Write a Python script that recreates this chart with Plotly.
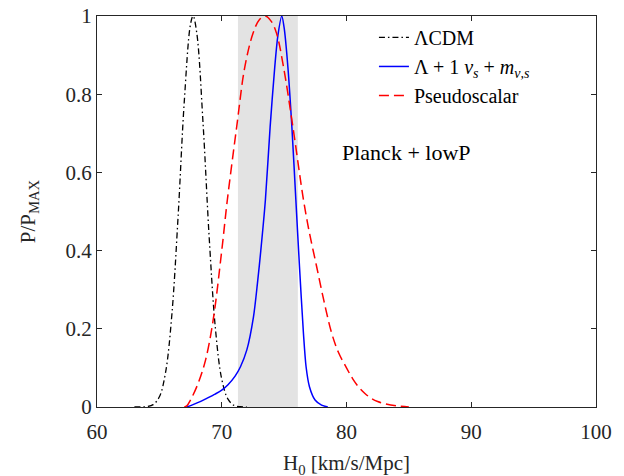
import plotly.graph_objects as go

# H0 posteriors, normalised to the peak
h0_lcdm = [63.0, 63.5, 64.0, 64.5, 65.0, 65.5, 66.0, 66.5, 67.0, 67.5, 67.7,
           68.0, 68.5, 69.0, 69.5, 70.0, 70.5, 71.0, 71.5, 72.0]
p_lcdm = [0.0, 0.0002, 0.001, 0.006, 0.026, 0.089, 0.236, 0.487, 0.783, 0.98, 1.0,
          0.956, 0.726, 0.43, 0.198, 0.071, 0.02, 0.004, 0.0007, 0.0]

h0_nus = [67.2, 67.7, 68.27, 68.8, 69.47, 70.0, 70.5, 71.07, 71.5, 72.01, 72.54,
          72.86, 73.13, 73.5, 73.88, 74.25, 74.5, 74.81, 75.0, 75.3, 75.62, 75.94,
          76.23, 76.55, 76.76, 77.03, 77.48, 78.0, 78.5]
p_nus = [0.0, 0.006, 0.0136, 0.022, 0.033, 0.043, 0.057, 0.079, 0.103, 0.146, 0.23,
         0.316, 0.40, 0.53, 0.717, 0.87, 0.95, 1.0, 0.97, 0.87, 0.717, 0.53,
         0.36, 0.188, 0.103, 0.052, 0.018, 0.005, 0.0]

h0_pseudo = [67.0, 67.2, 67.5, 68.1, 68.7, 69.3, 70.0, 70.45, 71.2, 71.85, 72.5,
             73.0, 73.5, 74.0, 74.4, 74.95, 75.7, 76.55, 77.0, 77.6, 78.2, 78.82,
             79.35, 80.0, 80.5, 81.0, 81.5, 82.0, 82.5, 83.0, 84.0, 85.0]
p_pseudo = [0.0, 0.003, 0.018, 0.06, 0.12, 0.22, 0.40, 0.53, 0.717, 0.87, 0.955,
            0.99, 1.0, 0.985, 0.955, 0.87, 0.717, 0.53, 0.45, 0.36, 0.27, 0.188,
            0.14, 0.10, 0.072, 0.05, 0.034, 0.022, 0.014, 0.009, 0.003, 0.0]

# local H0 measurement band
band = [71.3, 76.1]

x_ticks = [60, 70, 80, 90, 100]
y_ticks = [0, 0.2, 0.4, 0.6, 0.8, 1]

SERIF = "Liberation Serif"
INK = "#262626"

fig = go.Figure()

fig.add_trace(go.Scatter(
    x=h0_lcdm, y=p_lcdm, mode="lines", name="ΛCDM",
    line=dict(color="black", width=1.3, dash="6px,3px,1.5px,3px", shape="spline"),
))
fig.add_trace(go.Scatter(
    x=h0_nus, y=p_nus, mode="lines",
    name="Λ + 1 <i>ν<sub>s</sub></i> + <i>m<sub>ν,s</sub></i>",
    line=dict(color="blue", width=1.5, shape="spline", smoothing=0.8),
))
fig.add_trace(go.Scatter(
    x=h0_pseudo, y=p_pseudo, mode="lines", name="Pseudoscalar",
    line=dict(color="red", width=1.5, dash="10px,5px", shape="spline"),
))

fig.add_shape(type="rect", xref="x", yref="paper", x0=band[0], x1=band[1],
              y0=0, y1=1, fillcolor="#e3e3e3", line_width=0, layer="below")

fig.add_annotation(x=0.753, y=0.688, xref="paper", yref="paper",
                   text="Planck + lowP", showarrow=False,
                   font=dict(family=SERIF, size=22, color="black"))

axis_common = dict(
    showgrid=False, zeroline=False, showline=True, mirror="ticks",
    linecolor=INK, linewidth=1, ticks="inside", ticklen=5, tickcolor=INK,
    automargin=False, ticklabeloverflow="allow",
    tickfont=dict(family=SERIF, size=21, color=INK),
)

fig.update_xaxes(range=[60, 100], tickvals=x_ticks, ticklabelstandoff=6,
                 title=dict(text="H<sub>0</sub> [km/s/Mpc]",
                            font=dict(family=SERIF, size=21, color=INK), standoff=12),
                 **axis_common)
fig.update_yaxes(range=[0, 1], tickvals=y_ticks,
                 title=dict(text="P/P<sub>MAX</sub>",
                            font=dict(family=SERIF, size=21, color=INK), standoff=24),
                 **axis_common)

# page body adds 8 px, margins compensate
fig.update_layout(
    width=624, height=476, autosize=False,
    margin=dict(l=89, r=36, t=8, b=77),
    paper_bgcolor="white", plot_bgcolor="white",
    showlegend=True,
    legend=dict(x=0.555, y=0.995, xanchor="left", yanchor="top",
                bgcolor="rgba(0,0,0,0)", borderwidth=0, tracegroupgap=0,
                font=dict(family=SERIF, size=20, color="black")),
)

fig.write_html("out.html")
